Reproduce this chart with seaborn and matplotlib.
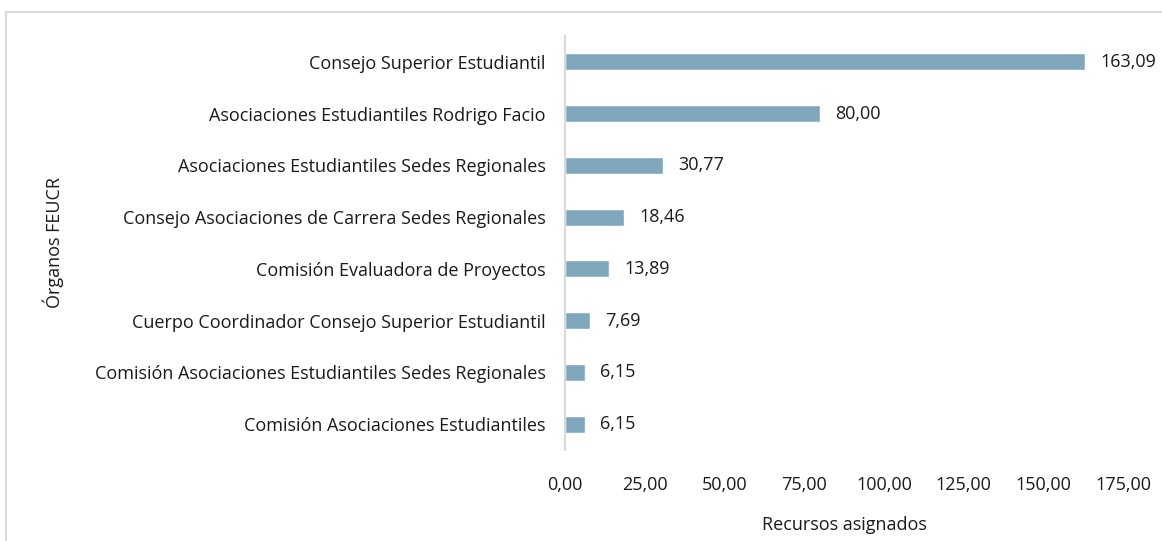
"""Recursos asignados por órgano de la FEUCR (barras horizontales)."""

import matplotlib
matplotlib.use('Agg')
import seaborn as sns
import matplotlib.pyplot as plt
from matplotlib.patches import Rectangle

# -----------------------------------------------------------------------------

organos = [
    'Consejo Superior Estudiantil',
    'Asociaciones Estudiantiles Rodrigo Facio',
    'Asociaciones Estudiantiles Sedes Regionales',
    'Consejo Asociaciones de Carrera Sedes Regionales',
    'Comisión Evaluadora de Proyectos',
    'Cuerpo Coordinador Consejo Superior Estudiantil',
    'Comisión Asociaciones Estudiantiles Sedes Regionales',
    'Comisión Asociaciones Estudiantiles',
]
recursos = [163.09, 80.00, 30.77, 18.46, 13.89, 7.69, 6.15, 6.15]
x_ticks = [0, 25, 50, 75, 100, 125, 150, 175]

BAR_COLOR = '#7FA8BC'
LINE_COLOR = '#D9D9D9'
TEXT_COLOR = '#1A1A1A'
FS = 13


def coma(v):
    return f'{v:.2f}'.replace('.', ',')

# -----------------------------------------------------------------------------

sns.set_style('white')
plt.rcParams['font.family'] = ['Open Sans', 'DejaVu Sans']
plt.rcParams['font.size'] = FS

fig = plt.figure(figsize=(11.62, 5.41), dpi=100)
ax = fig.add_axes([565 / 1162, 1 - 450 / 541, 558 / 1162, 414 / 541])

sns.barplot(x=recursos, y=organos, orient='h', color=BAR_COLOR,
            width=0.33, saturation=1, ax=ax)

ax.bar_label(ax.containers[0], labels=[coma(v) for v in recursos],
             padding=11, color=TEXT_COLOR, fontsize=FS)

ax.set_xlim(0, 175)
ax.set_xticks(x_ticks)
ax.set_xticklabels([coma(v) for v in x_ticks])
ax.tick_params(axis='both', length=0, colors=TEXT_COLOR, labelsize=FS)
ax.tick_params(axis='x', pad=19)
ax.tick_params(axis='y', pad=14)

for side in ['top', 'right', 'bottom']:
    ax.spines[side].set_visible(False)
ax.spines['left'].set_color(LINE_COLOR)
ax.spines['left'].set_linewidth(1.5)

ax.set_xlabel('Recursos asignados', color=TEXT_COLOR, fontsize=FS)
ax.set_ylabel('Órganos FEUCR', color=TEXT_COLOR, fontsize=FS)
ax.xaxis.set_label_coords(0.5, -0.16)
ax.yaxis.set_label_coords(-0.898, 0.5)

# Marco gris del área del gráfico
fig.patches.append(Rectangle((5.5 / 1162, -0.05), 1.2, 1 - 12.5 / 541 + 0.05,
                             transform=fig.transFigure, fill=False,
                             edgecolor=LINE_COLOR, linewidth=1.5))

fig.savefig('out.png', dpi=100)
